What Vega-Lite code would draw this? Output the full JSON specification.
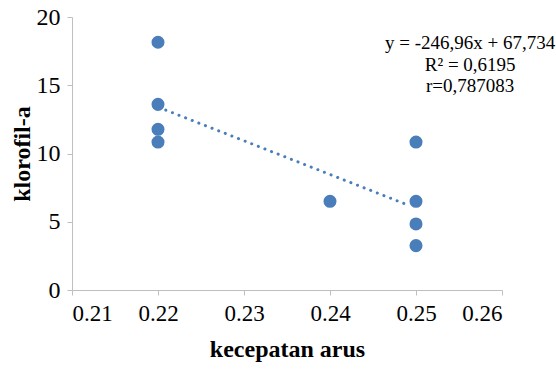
{
  "$schema": "https://vega.github.io/schema/vega-lite/v6.json",
  "width": 430,
  "height": 273,
  "autosize": "none",
  "padding": {"left": 72, "top": 17, "right": 54, "bottom": 79},
  "background": "white",
  "config": {
    "view": {"stroke": null},
    "font": "Liberation Serif"
  },
  "datasets": {
    "points": [
      {"arus": 0.22, "klorofil": 18.15},
      {"arus": 0.22, "klorofil": 13.6},
      {"arus": 0.22, "klorofil": 11.77},
      {"arus": 0.22, "klorofil": 10.84},
      {"arus": 0.24, "klorofil": 6.5},
      {"arus": 0.25, "klorofil": 10.84},
      {"arus": 0.25, "klorofil": 6.5},
      {"arus": 0.25, "klorofil": 4.84},
      {"arus": 0.25, "klorofil": 3.25}
    ],
    "trend": [
      {"arus": 0.2209, "klorofil": 13.18},
      {"arus": 0.2486, "klorofil": 6.34}
    ],
    "labels": [
      {"arus": 0.2563, "klorofil": 18.1, "text": "y = -246,96x + 67,734"},
      {"arus": 0.2563, "klorofil": 16.5, "text": "R² = 0,6195"},
      {"arus": 0.2563, "klorofil": 14.95, "text": "r=0,787083"}
    ]
  },
  "layer": [
    {
      "data": {"name": "trend"},
      "mark": {"type": "line", "color": "#4a7ebb", "strokeWidth": 3, "strokeDash": [0.1, 7], "strokeCap": "round"},
      "encoding": {
        "x": {"field": "arus", "type": "quantitative", "scale": {"domain": [0.21, 0.26], "nice": false, "zero": false},
          "axis": {"values": [0.21, 0.22, 0.23, 0.24, 0.25, 0.26], "format": ".2f", "title": "kecepatan arus",
            "grid": false, "domainColor": "#bfbfbf", "tickColor": "#bfbfbf", "tickSize": 5,
            "labelFont": "Liberation Serif", "labelFontSize": 23, "labelColor": "#000", "labelPadding": 7,
            "titleFont": "Liberation Serif", "titleFontSize": 24, "titleFontWeight": "bold", "titleColor": "#000", "titlePadding": 12}},
        "y": {"field": "klorofil", "type": "quantitative", "scale": {"domain": [0, 20], "nice": false},
          "axis": {"values": [0, 5, 10, 15, 20], "title": "klorofil-a",
            "grid": false, "domainColor": "#bfbfbf", "tickColor": "#bfbfbf", "tickSize": 5,
            "labelFont": "Liberation Serif", "labelFontSize": 24, "labelColor": "#000", "labelPadding": 7,
            "titleFont": "Liberation Serif", "titleFontSize": 24, "titleFontWeight": "bold", "titleColor": "#000", "titlePadding": 2}}
      }
    },
    {
      "data": {"name": "points"},
      "mark": {"type": "circle", "color": "#4a7ebb", "opacity": 1, "size": 170},
      "encoding": {
        "x": {"field": "arus", "type": "quantitative"},
        "y": {"field": "klorofil", "type": "quantitative"}
      }
    },
    {
      "data": {"name": "labels"},
      "mark": {"type": "text", "font": "Liberation Serif", "fontSize": 19, "color": "#000", "align": "center", "baseline": "middle"},
      "encoding": {
        "x": {"field": "arus", "type": "quantitative"},
        "y": {"field": "klorofil", "type": "quantitative"},
        "text": {"field": "text"}
      }
    }
  ]
}
